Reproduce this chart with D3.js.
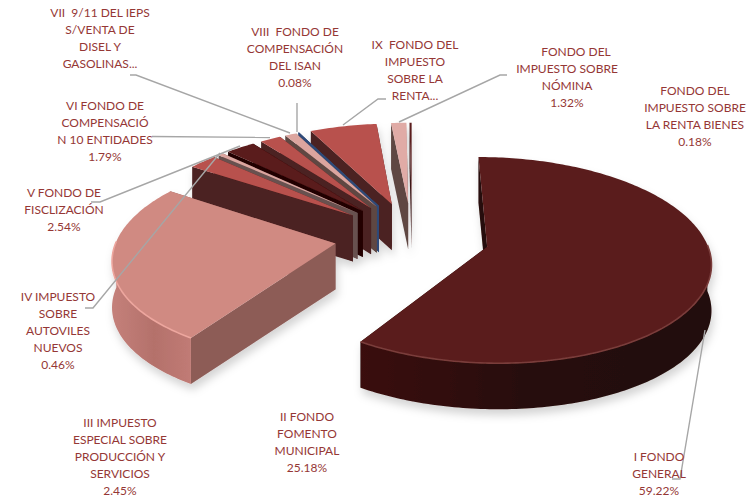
<!DOCTYPE html>
<html>
<head>
<meta charset="utf-8">
<script src="https://cdn.jsdelivr.net/npm/d3@7"></script>
<style>
  html, body { margin: 0; background: #fff; }
  svg { display: block; }
  text { font-family: Lato, "Open Sans", sans-serif; font-size: 12px; fill: #953735; text-anchor: middle; white-space: pre; }
</style>
</head>
<body>
<svg width="756" height="498"></svg>
<script>
// categories and shares, the two truncated ones (VII, IX) are estimated from the picture
const categories = ["I", "II", "III", "IV", "V", "VI", "VII", "VIII", "IX", "X", "XI"];
const shares = [59.22, 25.18, 2.45, 0.46, 2.54, 1.79, 1.0, 0.08, 5.78, 1.32, 0.18];

const labelLines = [
  ["I FONDO", "GENERAL", "59.22%"],
  ["II FONDO", "FOMENTO", "MUNICIPAL", "25.18%"],
  ["III IMPUESTO", "ESPECIAL SOBRE", "PRODUCCIÓN Y", "SERVICIOS", "2.45%"],
  ["IV IMPUESTO", "SOBRE", "AUTOVILES", "NUEVOS", "0.46%"],
  ["V FONDO DE", "FISCLIZACIÓN", "2.54%"],
  ["VI FONDO DE", "COMPENSACIÓ", "N 10 ENTIDADES", "1.79%"],
  ["VII  9/11 DEL IEPS", "S/VENTA DE", "DISEL Y", "GASOLINAS..."],
  ["VIII  FONDO DE", "COMPENSACIÓN", "DEL ISAN", "0.08%"],
  ["IX  FONDO DEL", "IMPUESTO", "SOBRE LA", "RENTA..."],
  ["FONDO DEL", "IMPUESTO SOBRE", "NÓMINA", "1.32%"],
  ["FONDO DEL", "IMPUESTO SOBRE", "LA RENTA BIENES", "0.18%"]
];

// label anchors: centre x, first line y, optional shift of the first line
const labelPos = [[659, 461], [307, 421], [120, 427], [58, 301], [64, 197], [105, 110], [100, 17], [295, 36], [415, 49], [567, 56, 9], [695, 95]];

// leader lines in screen pixels
const leaders = [
  [[705, 330], [680, 479], [672, 479]],
  null,
  null,
  [[85, 308], [93, 308], [220, 153]],
  [[91, 202], [100, 202], [240, 146]],
  [[152, 136.5], [270, 137.5]],
  [[130, 75], [136, 75], [290, 133]],
  [[297, 103], [297, 132]],
  [[386, 99], [378, 99], [343, 125]],
  [[507, 75], [500, 75], [399, 122]],
  null
];

const topColors = ["#5a1d1d", "#d08a82", "#b8514d", "#dca59f", "#5a1a1a", "#b8514d", "#dca59f", "#2f4a78", "#b8514d", "#e0aba6", "#5a1d1d"];
const sideColors = ["#250a08", "#8d5c57", "#4b2020", "#685150", "#240606", "#4b2020", "#5e4743", "#2f4a78", "#4b2020", "#5e4743", "#3a1515"];
const rimColors = [["#3a100e", "#260b09", "#220a08"], ["#c4807a", "#b4716b", "#c27c76"]];

const explode = 0.355, persp = 0.129, depth = 46;
const px = d3.scaleLinear().domain([-1, 1]).range([412 - 218, 412 + 218]);
const py = d3.scaleLinear().domain([-1, 1]).range([236.5 + 98.7, 236.5 - 98.7]);

const svg = d3.select("svg");
const defs = svg.append("defs");

const shadow = defs.append("filter").attr("id", "shadow")
  .attr("filterUnits", "userSpaceOnUse").attr("x", 0).attr("y", 0).attr("width", 756).attr("height", 498);
shadow.append("feDropShadow").attr("dx", 2).attr("dy", 6).attr("stdDeviation", 4)
  .attr("flood-color", "#000").attr("flood-opacity", 0.17);
defs.append("filter").attr("id", "soft").append("feGaussianBlur").attr("stdDeviation", 0.7);

rimColors.forEach((stops, i) => {
  const g = defs.append("linearGradient").attr("id", "rim" + i)
    .attr("gradientUnits", "userSpaceOnUse")
    .attr("x1", i ? 113 : 361).attr("x2", i ? 195 : 713).attr("y1", 0).attr("y2", 0);
  stops.forEach((c, j) => g.append("stop").attr("offset", j / (stops.length - 1)).attr("stop-color", c));
});

// ground plane point -> screen, one vanishing point for the whole pie
function project(x, z) {
  const s = 1 / (1 + persp * z);
  return [px(x * s), py(z * s)];
}

const line = d3.line();
const slices = d3.pie().sort(null).value(d => d)(shares).map((d, i) => {
  const mid = (d.startAngle + d.endAngle) / 2;
  return { ...d, i, mid, ox: explode * Math.sin(mid), oz: explode * Math.cos(mid) };
});

function rimPoint(s, a) {
  return project(s.ox + Math.sin(a), s.oz + Math.cos(a));
}
function down(p) {
  return [p[0], p[1] + depth];
}
function wall(s, a) {
  const o = project(s.ox, s.oz), r = rimPoint(s, a);
  return line([o, r, down(r), down(o)]) + "Z";
}

const pie = svg.append("g").attr("filter", "url(#shadow)");

d3.sort(slices, d => -Math.cos(d.mid)).forEach(s => {
  const g = pie.append("g");
  const step = Math.PI / 180;
  const angles = d3.range(s.startAngle, s.endAngle, step).concat(s.endAngle);
  const rim = angles.map(a => rimPoint(s, a));

  g.append("path").attr("d", wall(s, s.endAngle)).attr("fill", sideColors[s.i]);
  g.append("path").attr("d", wall(s, s.startAngle)).attr("fill", sideColors[s.i]);

  const front = angles.filter(a => Math.cos(a) < 0.03);
  if (front.length > 1) {
    const upper = front.map(a => rimPoint(s, a));
    g.append("path")
      .attr("d", line(upper.concat(upper.map(down).reverse())) + "Z")
      .attr("fill", s.i < 2 ? `url(#rim${s.i})` : sideColors[s.i]);
  }

  g.append("path")
    .attr("d", line([project(s.ox, s.oz), ...rim]) + "Z")
    .attr("fill", topColors[s.i])
    .attr("stroke", categories[s.i] === "VIII" ? topColors[s.i] : "none")
    .attr("stroke-width", 0.8);

  if (front.length > 1) {
    g.append("path")
      .attr("d", line(front.map(a => rimPoint(s, a))))
      .attr("fill", "none")
      .attr("stroke", s.i === 1 ? "#eda69e" : "#7a3c3a")
      .attr("stroke-width", 1.6)
      .attr("filter", "url(#soft)");
  }
});

leaders.forEach(pts => {
  if (!pts) return;
  svg.append("path").attr("d", line(pts)).attr("fill", "none")
    .attr("stroke", "#a6a6a6").attr("stroke-width", 1.4);
});

labelLines.forEach((rows, i) => {
  const [x, y, shift] = labelPos[i];
  const t = svg.append("text").attr("id", "label-" + categories[i]);
  rows.forEach((row, j) => {
    t.append("tspan").attr("x", x + (j === 0 && shift ? shift : 0)).attr("y", y + j * 17).text(row);
  });
});
</script>
</body>
</html>
